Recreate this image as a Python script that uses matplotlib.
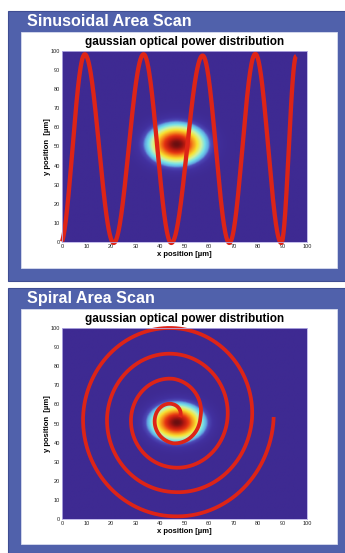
import numpy as np
import matplotlib
matplotlib.use("Agg")
from matplotlib import pyplot as plt
from matplotlib.colors import LinearSegmentedColormap
from matplotlib.patches import Rectangle

plt.rcParams["font.family"] = ["Liberation Sans", "DejaVu Sans"]

W, H = 345, 553

panel_titles = ["Sinusoidal Area Scan", "Spiral Area Scan"]
chart_title = "gaussian optical power distribution"
x_label = "x position [µm]"
y_label = "y position  [µm]"
tick_values = [0, 10, 20, 30, 40, 50, 60, 70, 80, 90, 100]

# sinusoidal scan: turning points
sine_x = [-0.8, 9.3, 21.1, 33.3, 44.6, 57.4, 68.3, 78.9, 89.5, 95.6]
sine_y = [-1.5, 98.3, -0.5, 98.3, -0.5, 97.6, -0.5, 98.5, -0.5, 97.4]

# spiral scan: radius (x units) at every quarter turn, y is stretched
spiral_angle = [0, 90, 180, 270, 360, 450, 540, 630, 720, 810, 900,
                990, 1080, 1170, 1260, 1350, 1440]
spiral_radius = [2.6, 4.9, 7.5, 10.2, 11.0, 14.8, 17.3, 19.6, 22.1, 24.5,
                 27.1, 29.1, 32.1, 34.5, 36.9, 38.5, 40.9]
spiral_center = (45.5, 53.4)
spiral_stretch = 1.35

# gaussian spot (center x, center y, sigma x, sigma y)
spot_top = (46.8, 51.2, 6.9, 6.2)
spot_bottom = (46.9, 50.3, 6.4, 5.7)

panel_blue = "#5061ab"
field_purple = "#3e2a92"
scan_red = "#dd2417"

spot_cmap = LinearSegmentedColormap.from_list("spot", [
    (0.0, field_purple), (0.07, "#4231a0"), (0.13, "#4e4cb8"),
    (0.17, "#62a8e2"), (0.24, "#74e0ea"), (0.34, "#cdf2a6"),
    (0.47, "#f8e432"), (0.62, "#f6901c"), (0.77, "#e53412"),
    (0.90, "#b41810"), (1.0, "#6a0f10")])


def box(x0, y0, x1, y1):
    # pixel box (from top left) -> figure fraction rect
    return [x0 / W, 1 - y1 / H, (x1 - x0) / W, (y1 - y0) / H]


def sine_path():
    xs, ys = [], []
    for i in range(len(sine_x) - 1):
        t = np.linspace(0, 1, 60)
        xs.append(sine_x[i] + (sine_x[i + 1] - sine_x[i]) * t)
        ys.append(sine_y[i] + (sine_y[i + 1] - sine_y[i]) * (1 - np.cos(np.pi * t)) / 2)
    xs = np.concatenate(xs)
    ys = np.concatenate(ys)
    keep = xs >= 0
    return xs[keep], ys[keep]


def spiral_path():
    theta = np.linspace(spiral_angle[0], spiral_angle[-1], 1500)
    r = np.interp(theta, spiral_angle, spiral_radius)
    rad = np.deg2rad(theta)
    xs = spiral_center[0] + r * np.cos(rad)
    ys = spiral_center[1] + spiral_stretch * r * np.sin(rad)
    return xs, ys


def draw_panel(fig, top, bottom, title, spot, path, lw):
    fig.patches.append(Rectangle((8 / W, 1 - bottom / H), 1, (bottom - top) / H,
                                 transform=fig.transFigure, facecolor=panel_blue,
                                 edgecolor="#3f4d92", linewidth=0.8, zorder=0))
    fig.text(27 / W, 1 - (top + 11) / H, title, color="white", fontsize=11.6,
             fontweight="bold", va="center", ha="left")
    white = box(21, top + 21, 337, top + 257 if bottom < 500 else bottom - 9)
    fig.patches.append(Rectangle((white[0], white[1]), white[2], white[3],
                                 transform=fig.transFigure, facecolor="white",
                                 edgecolor="#d8dcef", linewidth=0.6, zorder=1))
    ax = fig.add_axes(box(62, top + 40, 307, top + 231))
    ax.set_zorder(3)
    gx, gy = np.meshgrid(np.linspace(0, 100, 300), np.linspace(0, 100, 300))
    cx, cy, sx, sy = spot
    z = np.exp(-((gx - cx) ** 2 / (2 * sx ** 2) + (gy - cy) ** 2 / (2 * sy ** 2)))
    ax.imshow(z, extent=[0, 100, 0, 100], origin="lower", aspect="auto",
              cmap=spot_cmap, vmin=0, vmax=1, interpolation="bilinear")
    px, py = path
    ax.plot(px, py, color=scan_red, linewidth=lw, solid_capstyle="butt", clip_on=False)
    ax.set_xlim(0, 100)
    ax.set_ylim(0, 100)
    ax.set_xticks(tick_values)
    ax.set_yticks(tick_values)
    ax.tick_params(labelsize=4, length=0, pad=1.5, colors="#222222")
    for s in ax.spines.values():
        s.set_color("#b8b0e6")
        s.set_linewidth(0.6)
    ax.set_title(chart_title, fontsize=8.5, fontweight="bold", pad=4)
    ax.set_xlabel(x_label, fontsize=5.5, fontweight="bold", labelpad=1.5)
    ax.set_ylabel(y_label, fontsize=5.5, fontweight="bold", labelpad=0)
    return ax


fig = plt.figure(figsize=(W / 100, H / 100), dpi=100)
fig.patch.set_facecolor("white")

draw_panel(fig, 11, 281, panel_titles[0], spot_top, sine_path(), 3.1)
draw_panel(fig, 288, 553, panel_titles[1], spot_bottom, spiral_path(), 2.7)

fig.savefig("out.png", dpi=100)
